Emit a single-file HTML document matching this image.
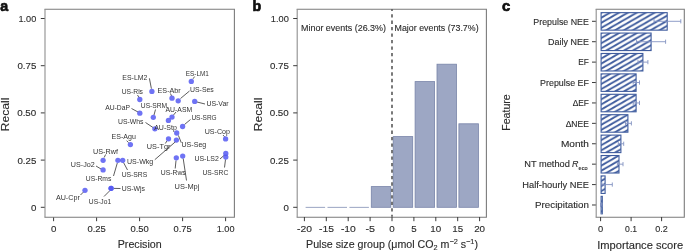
<!DOCTYPE html>
<html><head><meta charset="utf-8"><style>
html,body{margin:0;padding:0;background:#fff;}
svg{display:block;font-family:"Liberation Sans", sans-serif;will-change:transform;}
text{stroke:#2b2b2b;stroke-width:0.12px;}
text.s{stroke:none;}
</style></head><body>
<svg width="685" height="251" viewBox="0 0 685 251">
<rect width="685" height="251" fill="#fff"/>
<text x="0.3" y="11" font-size="15" text-anchor="start" fill="#111" font-weight="bold" textLength="7.9" lengthAdjust="spacingAndGlyphs" style="stroke:#111;stroke-width:0.7px">a</text>
<line x1="40.8" y1="207.3" x2="45" y2="207.3" stroke="#3a3a3a" stroke-width="1"/>
<text x="36.3" y="210.7" font-size="9.8" text-anchor="end" fill="#2b2b2b" font-weight="normal" textLength="5.4" lengthAdjust="spacingAndGlyphs">0</text>
<line x1="40.8" y1="160.10000000000002" x2="45" y2="160.10000000000002" stroke="#3a3a3a" stroke-width="1"/>
<text x="36.3" y="163.5" font-size="9.8" text-anchor="end" fill="#2b2b2b" font-weight="normal" textLength="18.9" lengthAdjust="spacingAndGlyphs">0.25</text>
<line x1="40.8" y1="112.9" x2="45" y2="112.9" stroke="#3a3a3a" stroke-width="1"/>
<text x="36.3" y="116.3" font-size="9.8" text-anchor="end" fill="#2b2b2b" font-weight="normal" textLength="19.1" lengthAdjust="spacingAndGlyphs">0.50</text>
<line x1="40.8" y1="65.69999999999999" x2="45" y2="65.69999999999999" stroke="#3a3a3a" stroke-width="1"/>
<text x="36.3" y="69.1" font-size="9.8" text-anchor="end" fill="#2b2b2b" font-weight="normal" textLength="18.9" lengthAdjust="spacingAndGlyphs">0.75</text>
<line x1="40.8" y1="18.5" x2="45" y2="18.5" stroke="#3a3a3a" stroke-width="1"/>
<text x="36.3" y="21.9" font-size="9.8" text-anchor="end" fill="#2b2b2b" font-weight="normal" textLength="17.8" lengthAdjust="spacingAndGlyphs">1.00</text>
<line x1="53.6" y1="217" x2="53.6" y2="221.2" stroke="#3a3a3a" stroke-width="1"/>
<text x="53.6" y="232.2" font-size="9.8" text-anchor="middle" fill="#2b2b2b" font-weight="normal" textLength="5.4" lengthAdjust="spacingAndGlyphs">0</text>
<line x1="96.6" y1="217" x2="96.6" y2="221.2" stroke="#3a3a3a" stroke-width="1"/>
<text x="96.6" y="232.2" font-size="9.8" text-anchor="middle" fill="#2b2b2b" font-weight="normal" textLength="18.4" lengthAdjust="spacingAndGlyphs">0.25</text>
<line x1="139.6" y1="217" x2="139.6" y2="221.2" stroke="#3a3a3a" stroke-width="1"/>
<text x="139.6" y="232.2" font-size="9.8" text-anchor="middle" fill="#2b2b2b" font-weight="normal" textLength="18.4" lengthAdjust="spacingAndGlyphs">0.50</text>
<line x1="182.6" y1="217" x2="182.6" y2="221.2" stroke="#3a3a3a" stroke-width="1"/>
<text x="182.6" y="232.2" font-size="9.8" text-anchor="middle" fill="#2b2b2b" font-weight="normal" textLength="18.2" lengthAdjust="spacingAndGlyphs">0.75</text>
<line x1="225.6" y1="217" x2="225.6" y2="221.2" stroke="#3a3a3a" stroke-width="1"/>
<text x="225.6" y="232.2" font-size="9.8" text-anchor="middle" fill="#2b2b2b" font-weight="normal" textLength="17.8" lengthAdjust="spacingAndGlyphs">1.00</text>
<text x="117.7" y="247.5" font-size="10.2" text-anchor="start" fill="#2b2b2b" font-weight="normal" textLength="44" lengthAdjust="spacingAndGlyphs">Precision</text>
<text transform="translate(8.7,114.5) rotate(-90)" font-size="10.2" text-anchor="middle" fill="#2b2b2b" textLength="33.8" lengthAdjust="spacingAndGlyphs">Recall</text>
<line x1="193" y1="78.8" x2="194.6" y2="76.6" stroke="#333" stroke-width="0.8"/>
<line x1="149.4" y1="78.3" x2="151.4" y2="88.7" stroke="#333" stroke-width="0.8"/>
<line x1="170.5" y1="93.5" x2="171.5" y2="96" stroke="#333" stroke-width="0.8"/>
<line x1="180.5" y1="98.5" x2="189.5" y2="91" stroke="#333" stroke-width="0.8"/>
<line x1="137.5" y1="95" x2="139" y2="97.5" stroke="#333" stroke-width="0.8"/>
<line x1="197" y1="102" x2="205" y2="104" stroke="#333" stroke-width="0.8"/>
<line x1="131.5" y1="108.5" x2="138" y2="112" stroke="#333" stroke-width="0.8"/>
<line x1="154" y1="115" x2="155.5" y2="109.5" stroke="#333" stroke-width="0.8"/>
<line x1="173.5" y1="115" x2="176" y2="112" stroke="#333" stroke-width="0.8"/>
<line x1="145.5" y1="122.5" x2="153" y2="127.5" stroke="#333" stroke-width="0.8"/>
<line x1="184.5" y1="124.5" x2="190.5" y2="119.5" stroke="#333" stroke-width="0.8"/>
<line x1="178.4" y1="135.4" x2="181.3" y2="142.8" stroke="#333" stroke-width="0.8"/>
<line x1="166.9" y1="141" x2="165.3" y2="143.5" stroke="#333" stroke-width="0.8"/>
<line x1="175.5" y1="141.7" x2="154.8" y2="159.7" stroke="#333" stroke-width="0.8"/>
<line x1="223" y1="135" x2="224.6" y2="136.8" stroke="#333" stroke-width="0.8"/>
<line x1="220" y1="159" x2="224.5" y2="155" stroke="#333" stroke-width="0.8"/>
<line x1="224.5" y1="167.5" x2="225.5" y2="159.5" stroke="#333" stroke-width="0.8"/>
<line x1="176" y1="160.5" x2="175.2" y2="168.5" stroke="#333" stroke-width="0.8"/>
<line x1="183.2" y1="158.5" x2="186.5" y2="180.5" stroke="#333" stroke-width="0.8"/>
<line x1="126.6" y1="140.7" x2="128.6" y2="142.6" stroke="#333" stroke-width="0.8"/>
<line x1="104.2" y1="157.5" x2="105.6" y2="154.5" stroke="#333" stroke-width="0.8"/>
<line x1="96" y1="166" x2="101" y2="169" stroke="#333" stroke-width="0.8"/>
<line x1="123.5" y1="162.5" x2="127.5" y2="170" stroke="#333" stroke-width="0.8"/>
<line x1="113.5" y1="176" x2="117.3" y2="163" stroke="#333" stroke-width="0.8"/>
<line x1="114" y1="188.4" x2="120.5" y2="188.5" stroke="#333" stroke-width="0.8"/>
<line x1="80.5" y1="195" x2="83.5" y2="192" stroke="#333" stroke-width="0.8"/>
<line x1="104" y1="196.5" x2="110" y2="190.5" stroke="#333" stroke-width="0.8"/>
<circle cx="191.3" cy="81.4" r="2.65" fill="#5257f2" fill-opacity="0.83"/>
<circle cx="151.9" cy="91.4" r="2.65" fill="#5257f2" fill-opacity="0.83"/>
<circle cx="172" cy="98.2" r="2.65" fill="#5257f2" fill-opacity="0.83"/>
<circle cx="178.2" cy="100.8" r="2.65" fill="#5257f2" fill-opacity="0.83"/>
<circle cx="139.8" cy="99.5" r="2.65" fill="#5257f2" fill-opacity="0.83"/>
<circle cx="194.7" cy="101.4" r="2.65" fill="#5257f2" fill-opacity="0.83"/>
<circle cx="139.8" cy="113.2" r="2.65" fill="#5257f2" fill-opacity="0.83"/>
<circle cx="153.3" cy="117.3" r="2.65" fill="#5257f2" fill-opacity="0.83"/>
<circle cx="172" cy="117.1" r="2.65" fill="#5257f2" fill-opacity="0.83"/>
<circle cx="168.4" cy="120.4" r="2.65" fill="#5257f2" fill-opacity="0.83"/>
<circle cx="154.9" cy="128.8" r="2.65" fill="#5257f2" fill-opacity="0.83"/>
<circle cx="182.6" cy="126.5" r="2.65" fill="#5257f2" fill-opacity="0.83"/>
<circle cx="176.7" cy="133" r="2.65" fill="#5257f2" fill-opacity="0.83"/>
<circle cx="168.5" cy="138.8" r="2.65" fill="#5257f2" fill-opacity="0.83"/>
<circle cx="176.4" cy="140.1" r="2.65" fill="#5257f2" fill-opacity="0.83"/>
<circle cx="225.6" cy="138.9" r="2.65" fill="#5257f2" fill-opacity="0.83"/>
<circle cx="225.8" cy="153.4" r="2.65" fill="#5257f2" fill-opacity="0.83"/>
<circle cx="225.8" cy="157.1" r="2.65" fill="#5257f2" fill-opacity="0.83"/>
<circle cx="176.3" cy="157.8" r="2.65" fill="#5257f2" fill-opacity="0.83"/>
<circle cx="182.7" cy="156.1" r="2.65" fill="#5257f2" fill-opacity="0.83"/>
<circle cx="130.4" cy="144.6" r="2.65" fill="#5257f2" fill-opacity="0.83"/>
<circle cx="103.1" cy="160.3" r="2.65" fill="#5257f2" fill-opacity="0.83"/>
<circle cx="103.1" cy="169.9" r="2.65" fill="#5257f2" fill-opacity="0.83"/>
<circle cx="117.9" cy="160.3" r="2.65" fill="#5257f2" fill-opacity="0.83"/>
<circle cx="122.7" cy="160.3" r="2.65" fill="#5257f2" fill-opacity="0.83"/>
<circle cx="85" cy="190.3" r="2.65" fill="#5257f2" fill-opacity="0.83"/>
<circle cx="111.1" cy="188.3" r="2.65" fill="#5257f2" fill-opacity="0.83"/>
<circle cx="111.1" cy="188.3" r="2.65" fill="#5257f2" fill-opacity="0.83"/>
<text x="185.8" y="76.2" font-size="7" text-anchor="start" fill="#333" font-weight="normal" textLength="23.1" lengthAdjust="spacingAndGlyphs" class="s">ES-LM1</text>
<text x="122.3" y="80.4" font-size="7" text-anchor="start" fill="#333" font-weight="normal" textLength="25.1" lengthAdjust="spacingAndGlyphs" class="s">ES-LM2</text>
<text x="157.6" y="92.6" font-size="7" text-anchor="start" fill="#333" font-weight="normal" textLength="23.1" lengthAdjust="spacingAndGlyphs" class="s">ES-Abr</text>
<text x="190" y="91.9" font-size="7" text-anchor="start" fill="#333" font-weight="normal" textLength="23.8" lengthAdjust="spacingAndGlyphs" class="s">US-Ses</text>
<text x="121.7" y="94.4" font-size="7" text-anchor="start" fill="#333" font-weight="normal" textLength="21.3" lengthAdjust="spacingAndGlyphs" class="s">US-Rls</text>
<text x="206.4" y="106.2" font-size="7" text-anchor="start" fill="#333" font-weight="normal" textLength="22.3" lengthAdjust="spacingAndGlyphs" class="s">US-Var</text>
<text x="105.2" y="110.4" font-size="7" text-anchor="start" fill="#333" font-weight="normal" textLength="24.8" lengthAdjust="spacingAndGlyphs" class="s">AU-DaP</text>
<text x="140.8" y="108.4" font-size="7" text-anchor="start" fill="#333" font-weight="normal" textLength="26.4" lengthAdjust="spacingAndGlyphs" class="s">US-SRM</text>
<text x="165.5" y="111.5" font-size="7" text-anchor="start" fill="#333" font-weight="normal" textLength="26.7" lengthAdjust="spacingAndGlyphs" class="s">AU-ASM</text>
<text x="118" y="123.7" font-size="7" text-anchor="start" fill="#333" font-weight="normal" textLength="25.5" lengthAdjust="spacingAndGlyphs" class="s">US-Whs</text>
<text x="154.2" y="130.2" font-size="7" text-anchor="start" fill="#333" font-weight="normal" textLength="22.6" lengthAdjust="spacingAndGlyphs" class="s">AU-Stp</text>
<text x="191.4" y="119.9" font-size="7" text-anchor="start" fill="#333" font-weight="normal" textLength="25.3" lengthAdjust="spacingAndGlyphs" class="s">US-SRG</text>
<text x="181.5" y="147.4" font-size="7" text-anchor="start" fill="#333" font-weight="normal" textLength="24.8" lengthAdjust="spacingAndGlyphs" class="s">US-Seg</text>
<text x="146.8" y="149.4" font-size="7" text-anchor="start" fill="#333" font-weight="normal" textLength="23.6" lengthAdjust="spacingAndGlyphs" class="s">US-Tgr</text>
<text x="204.7" y="133.7" font-size="7" text-anchor="start" fill="#333" font-weight="normal" textLength="25.3" lengthAdjust="spacingAndGlyphs" class="s">US-Cop</text>
<text x="194.4" y="161.4" font-size="7" text-anchor="start" fill="#333" font-weight="normal" textLength="24.4" lengthAdjust="spacingAndGlyphs" class="s">US-LS2</text>
<text x="202.5" y="175.4" font-size="7" text-anchor="start" fill="#333" font-weight="normal" textLength="25.8" lengthAdjust="spacingAndGlyphs" class="s">US-SRC</text>
<text x="160.7" y="175.1" font-size="7" text-anchor="start" fill="#333" font-weight="normal" textLength="25.1" lengthAdjust="spacingAndGlyphs" class="s">US-Rws</text>
<text x="174.6" y="188.5" font-size="7" text-anchor="start" fill="#333" font-weight="normal" textLength="24.8" lengthAdjust="spacingAndGlyphs" class="s">US-Mpj</text>
<text x="111.5" y="139.2" font-size="7" text-anchor="start" fill="#333" font-weight="normal" textLength="24.3" lengthAdjust="spacingAndGlyphs" class="s">ES-Agu</text>
<text x="93" y="153.6" font-size="7" text-anchor="start" fill="#333" font-weight="normal" textLength="24.9" lengthAdjust="spacingAndGlyphs" class="s">US-Rwf</text>
<text x="70.8" y="167.0" font-size="7" text-anchor="start" fill="#333" font-weight="normal" textLength="23.9" lengthAdjust="spacingAndGlyphs" class="s">US-Jo2</text>
<text x="127" y="163.9" font-size="7" text-anchor="start" fill="#333" font-weight="normal" textLength="26.3" lengthAdjust="spacingAndGlyphs" class="s">US-Wkg</text>
<text x="121.7" y="176.6" font-size="7" text-anchor="start" fill="#333" font-weight="normal" textLength="25.6" lengthAdjust="spacingAndGlyphs" class="s">US-SRS</text>
<text x="85.8" y="181.3" font-size="7" text-anchor="start" fill="#333" font-weight="normal" textLength="25.5" lengthAdjust="spacingAndGlyphs" class="s">US-Rms</text>
<text x="121.7" y="191.0" font-size="7" text-anchor="start" fill="#333" font-weight="normal" textLength="23.3" lengthAdjust="spacingAndGlyphs" class="s">US-Wjs</text>
<text x="55.9" y="199.7" font-size="7" text-anchor="start" fill="#333" font-weight="normal" textLength="23.9" lengthAdjust="spacingAndGlyphs" class="s">AU-Cpr</text>
<text x="88.8" y="204.3" font-size="7" text-anchor="start" fill="#333" font-weight="normal" textLength="22.3" lengthAdjust="spacingAndGlyphs" class="s">US-Jo1</text>
<path d="M45 9.3H234.4V217.3H45" fill="none" stroke="#7b7b7b" stroke-width="1.1" stroke-linecap="square"/>
<path d="M45 9.3V217.3" fill="none" stroke="#8f8f8f" stroke-width="1.1"/>
<text x="252.5" y="10.8" font-size="15" text-anchor="start" fill="#111" font-weight="bold" textLength="8.7" lengthAdjust="spacingAndGlyphs" style="stroke:#111;stroke-width:0.7px">b</text>
<line x1="305.59999999999997" y1="207.4" x2="325.1" y2="207.4" stroke="#a3acc8" stroke-width="1.1"/>
<line x1="327.5" y1="207.4" x2="347.0" y2="207.4" stroke="#a3acc8" stroke-width="1.1"/>
<line x1="349.4" y1="207.4" x2="368.90000000000003" y2="207.4" stroke="#a3acc8" stroke-width="1.1"/>
<rect x="371.30" y="186.6" width="19.50" height="20.7" fill="#9da7c4" stroke="#7884a9" stroke-width="0.8"/>
<rect x="393.20" y="136.6" width="19.50" height="70.7" fill="#9da7c4" stroke="#7884a9" stroke-width="0.8"/>
<rect x="415.10" y="81.60000000000001" width="19.50" height="125.7" fill="#9da7c4" stroke="#7884a9" stroke-width="0.8"/>
<rect x="437.00" y="64.2" width="19.50" height="143.1" fill="#9da7c4" stroke="#7884a9" stroke-width="0.8"/>
<rect x="458.90" y="123.80000000000001" width="19.50" height="83.5" fill="#9da7c4" stroke="#7884a9" stroke-width="0.8"/>
<path d="M297.2 9.3H486.4V217.3H297.2" fill="none" stroke="#7b7b7b" stroke-width="1.1" stroke-linecap="square"/>
<path d="M297.2 9.3V217.3" fill="none" stroke="#8f8f8f" stroke-width="1.1"/>
<line x1="392.0" y1="9.3" x2="392.0" y2="216.8" stroke="#3a3a3a" stroke-width="1.35" stroke-dasharray="3.3,3.17" stroke-dashoffset="1.64"/>
<line x1="293.2" y1="207.3" x2="297.2" y2="207.3" stroke="#3a3a3a" stroke-width="1"/>
<text x="288.8" y="210.7" font-size="9.8" text-anchor="end" fill="#2b2b2b" font-weight="normal" textLength="5.4" lengthAdjust="spacingAndGlyphs">0</text>
<line x1="293.2" y1="160.10000000000002" x2="297.2" y2="160.10000000000002" stroke="#3a3a3a" stroke-width="1"/>
<text x="288.8" y="163.5" font-size="9.8" text-anchor="end" fill="#2b2b2b" font-weight="normal" textLength="18.9" lengthAdjust="spacingAndGlyphs">0.25</text>
<line x1="293.2" y1="112.9" x2="297.2" y2="112.9" stroke="#3a3a3a" stroke-width="1"/>
<text x="288.8" y="116.3" font-size="9.8" text-anchor="end" fill="#2b2b2b" font-weight="normal" textLength="19.1" lengthAdjust="spacingAndGlyphs">0.50</text>
<line x1="293.2" y1="65.69999999999999" x2="297.2" y2="65.69999999999999" stroke="#3a3a3a" stroke-width="1"/>
<text x="288.8" y="69.1" font-size="9.8" text-anchor="end" fill="#2b2b2b" font-weight="normal" textLength="18.9" lengthAdjust="spacingAndGlyphs">0.75</text>
<line x1="293.2" y1="18.5" x2="297.2" y2="18.5" stroke="#3a3a3a" stroke-width="1"/>
<text x="288.8" y="21.9" font-size="9.8" text-anchor="end" fill="#2b2b2b" font-weight="normal" textLength="18" lengthAdjust="spacingAndGlyphs">1.00</text>
<line x1="304.4" y1="217" x2="304.4" y2="221.2" stroke="#3a3a3a" stroke-width="1"/>
<text x="304.59999999999997" y="232.4" font-size="9.8" text-anchor="middle" fill="#2b2b2b" font-weight="normal" textLength="15" lengthAdjust="spacingAndGlyphs">-20</text>
<line x1="326.3" y1="217" x2="326.3" y2="221.2" stroke="#3a3a3a" stroke-width="1"/>
<text x="326.5" y="232.4" font-size="9.8" text-anchor="middle" fill="#2b2b2b" font-weight="normal" textLength="15" lengthAdjust="spacingAndGlyphs">-15</text>
<line x1="348.2" y1="217" x2="348.2" y2="221.2" stroke="#3a3a3a" stroke-width="1"/>
<text x="348.4" y="232.4" font-size="9.8" text-anchor="middle" fill="#2b2b2b" font-weight="normal" textLength="15" lengthAdjust="spacingAndGlyphs">-10</text>
<line x1="370.1" y1="217" x2="370.1" y2="221.2" stroke="#3a3a3a" stroke-width="1"/>
<text x="370.3" y="232.4" font-size="9.8" text-anchor="middle" fill="#2b2b2b" font-weight="normal" textLength="9.6" lengthAdjust="spacingAndGlyphs">-5</text>
<line x1="392.0" y1="217" x2="392.0" y2="221.2" stroke="#3a3a3a" stroke-width="1"/>
<text x="392.0" y="232.4" font-size="9.8" text-anchor="middle" fill="#2b2b2b" font-weight="normal">0</text>
<line x1="413.9" y1="217" x2="413.9" y2="221.2" stroke="#3a3a3a" stroke-width="1"/>
<text x="413.9" y="232.4" font-size="9.8" text-anchor="middle" fill="#2b2b2b" font-weight="normal">5</text>
<line x1="435.8" y1="217" x2="435.8" y2="221.2" stroke="#3a3a3a" stroke-width="1"/>
<text x="435.8" y="232.4" font-size="9.8" text-anchor="middle" fill="#2b2b2b" font-weight="normal">10</text>
<line x1="457.7" y1="217" x2="457.7" y2="221.2" stroke="#3a3a3a" stroke-width="1"/>
<text x="457.7" y="232.4" font-size="9.8" text-anchor="middle" fill="#2b2b2b" font-weight="normal">15</text>
<line x1="479.6" y1="217" x2="479.6" y2="221.2" stroke="#3a3a3a" stroke-width="1"/>
<text x="479.6" y="232.4" font-size="9.8" text-anchor="middle" fill="#2b2b2b" font-weight="normal">20</text>
<text x="301" y="31.0" font-size="9" text-anchor="start" fill="#2b2b2b" font-weight="normal" textLength="85" lengthAdjust="spacingAndGlyphs">Minor events (26.3%)</text>
<text x="394.6" y="31.0" font-size="9" text-anchor="start" fill="#2b2b2b" font-weight="normal" textLength="84" lengthAdjust="spacingAndGlyphs">Major events (73.7%)</text>
<text transform="translate(262.2,114.5) rotate(-90)" font-size="10.2" text-anchor="middle" fill="#2b2b2b" textLength="33.8" lengthAdjust="spacingAndGlyphs">Recall</text>
<text x="306.1" y="247.5" font-size="10.2" fill="#2b2b2b" textLength="171.9" lengthAdjust="spacingAndGlyphs">Pulse size group (&#956;mol CO<tspan font-size="7" dy="2.5">2</tspan><tspan dy="-2.5"> m</tspan><tspan font-size="7" dy="-4">&#8722;2</tspan><tspan dy="4"> s</tspan><tspan font-size="7" dy="-4">&#8722;1</tspan><tspan dy="4">)</tspan></text>
<text x="502" y="10.8" font-size="15" text-anchor="start" fill="#111" font-weight="bold" textLength="8.2" lengthAdjust="spacingAndGlyphs" style="stroke:#111;stroke-width:0.7px">c</text>
<defs><pattern id="h" patternUnits="userSpaceOnUse" x="610" y="7.6" width="8.9" height="5.1"><rect width="8.9" height="5.1" fill="#fff"/><path d="M-8.9 5.1 L8.9 -5.1 M0 10.2 L17.8 0 M-8.9 10.2 L8.9 0 M0 5.1 L17.8 -5.1" stroke="#3f5c9e" stroke-width="1.85"/></pattern></defs>
<rect x="601.1" y="12.65" width="66.1" height="17.5" fill="url(#h)" stroke="#3f5c9e" stroke-width="1.1"/>
<line x1="654" y1="21.299999999999997" x2="680.8" y2="21.299999999999997" stroke="#8393c2" stroke-width="0.9"/>
<line x1="680.8" y1="19.199999999999996" x2="680.8" y2="23.4" stroke="#8393c2" stroke-width="0.9"/>
<line x1="654" y1="19.199999999999996" x2="654" y2="23.4" stroke="#8393c2" stroke-width="0.9"/>
<line x1="592" y1="21.299999999999997" x2="596.2" y2="21.299999999999997" stroke="#3a3a3a" stroke-width="1"/>
<text x="588.9" y="24.6" font-size="9" text-anchor="end" fill="#2b2b2b" font-weight="normal" textLength="55.6" lengthAdjust="spacingAndGlyphs">Prepulse NEE</text>
<rect x="601.1" y="33.06" width="50.0" height="17.5" fill="url(#h)" stroke="#3f5c9e" stroke-width="1.1"/>
<line x1="636.6" y1="41.709999999999994" x2="665.6" y2="41.709999999999994" stroke="#8393c2" stroke-width="0.9"/>
<line x1="665.6" y1="39.60999999999999" x2="665.6" y2="43.809999999999995" stroke="#8393c2" stroke-width="0.9"/>
<line x1="636.6" y1="39.60999999999999" x2="636.6" y2="43.809999999999995" stroke="#8393c2" stroke-width="0.9"/>
<line x1="592" y1="41.709999999999994" x2="596.2" y2="41.709999999999994" stroke="#3a3a3a" stroke-width="1"/>
<text x="588.9" y="45.01" font-size="9" text-anchor="end" fill="#2b2b2b" font-weight="normal" textLength="40.8" lengthAdjust="spacingAndGlyphs">Daily NEE</text>
<rect x="601.1" y="53.47" width="41.8" height="17.5" fill="url(#h)" stroke="#3f5c9e" stroke-width="1.1"/>
<line x1="638" y1="62.120000000000005" x2="647.9" y2="62.120000000000005" stroke="#8393c2" stroke-width="0.9"/>
<line x1="647.9" y1="60.02" x2="647.9" y2="64.22" stroke="#8393c2" stroke-width="0.9"/>
<line x1="638" y1="60.02" x2="638" y2="64.22" stroke="#8393c2" stroke-width="0.9"/>
<line x1="592" y1="62.120000000000005" x2="596.2" y2="62.120000000000005" stroke="#3a3a3a" stroke-width="1"/>
<text x="588.9" y="65.42" font-size="9" text-anchor="end" fill="#2b2b2b" font-weight="normal" textLength="10.6" lengthAdjust="spacingAndGlyphs">EF</text>
<rect x="601.1" y="73.88" width="35.0" height="17.5" fill="url(#h)" stroke="#3f5c9e" stroke-width="1.1"/>
<line x1="633.2" y1="82.53" x2="639.5" y2="82.53" stroke="#8393c2" stroke-width="0.9"/>
<line x1="639.5" y1="80.43" x2="639.5" y2="84.63" stroke="#8393c2" stroke-width="0.9"/>
<line x1="633.2" y1="80.43" x2="633.2" y2="84.63" stroke="#8393c2" stroke-width="0.9"/>
<line x1="592" y1="82.53" x2="596.2" y2="82.53" stroke="#3a3a3a" stroke-width="1"/>
<text x="588.9" y="85.83" font-size="9" text-anchor="end" fill="#2b2b2b" font-weight="normal" textLength="48.8" lengthAdjust="spacingAndGlyphs">Prepulse EF</text>
<rect x="601.1" y="94.29" width="35.0" height="17.5" fill="url(#h)" stroke="#3f5c9e" stroke-width="1.1"/>
<line x1="633.2" y1="102.94" x2="639.5" y2="102.94" stroke="#8393c2" stroke-width="0.9"/>
<line x1="639.5" y1="100.84" x2="639.5" y2="105.03999999999999" stroke="#8393c2" stroke-width="0.9"/>
<line x1="633.2" y1="100.84" x2="633.2" y2="105.03999999999999" stroke="#8393c2" stroke-width="0.9"/>
<line x1="592" y1="102.94" x2="596.2" y2="102.94" stroke="#3a3a3a" stroke-width="1"/>
<text x="588.9" y="106.24" font-size="9" text-anchor="end" fill="#2b2b2b" font-weight="normal" textLength="16.2" lengthAdjust="spacingAndGlyphs">&#916;EF</text>
<rect x="601.1" y="114.70" width="26.8" height="17.5" fill="url(#h)" stroke="#3f5c9e" stroke-width="1.1"/>
<line x1="625.5" y1="123.35" x2="631.4" y2="123.35" stroke="#8393c2" stroke-width="0.9"/>
<line x1="631.4" y1="121.25" x2="631.4" y2="125.44999999999999" stroke="#8393c2" stroke-width="0.9"/>
<line x1="625.5" y1="121.25" x2="625.5" y2="125.44999999999999" stroke="#8393c2" stroke-width="0.9"/>
<line x1="592" y1="123.35" x2="596.2" y2="123.35" stroke="#3a3a3a" stroke-width="1"/>
<text x="588.9" y="126.65" font-size="9" text-anchor="end" fill="#2b2b2b" font-weight="normal" textLength="23.2" lengthAdjust="spacingAndGlyphs">&#916;NEE</text>
<rect x="601.1" y="135.11" width="19.8" height="17.5" fill="url(#h)" stroke="#3f5c9e" stroke-width="1.1"/>
<line x1="618.3" y1="143.76" x2="623.7" y2="143.76" stroke="#8393c2" stroke-width="0.9"/>
<line x1="623.7" y1="141.66" x2="623.7" y2="145.85999999999999" stroke="#8393c2" stroke-width="0.9"/>
<line x1="618.3" y1="141.66" x2="618.3" y2="145.85999999999999" stroke="#8393c2" stroke-width="0.9"/>
<line x1="592" y1="143.76" x2="596.2" y2="143.76" stroke="#3a3a3a" stroke-width="1"/>
<text x="588.9" y="147.06" font-size="9" text-anchor="end" fill="#2b2b2b" font-weight="normal" textLength="28" lengthAdjust="spacingAndGlyphs">Month</text>
<rect x="601.1" y="155.52" width="17.9" height="17.5" fill="url(#h)" stroke="#3f5c9e" stroke-width="1.1"/>
<line x1="617.4" y1="164.17" x2="623" y2="164.17" stroke="#8393c2" stroke-width="0.9"/>
<line x1="623" y1="162.07" x2="623" y2="166.26999999999998" stroke="#8393c2" stroke-width="0.9"/>
<line x1="617.4" y1="162.07" x2="617.4" y2="166.26999999999998" stroke="#8393c2" stroke-width="0.9"/>
<line x1="592" y1="164.17" x2="596.2" y2="164.17" stroke="#3a3a3a" stroke-width="1"/>
<text x="524.3" y="167.47" font-size="9" text-anchor="start" fill="#2b2b2b" font-weight="normal" textLength="45.5" lengthAdjust="spacingAndGlyphs">NT method</text>
<text x="572.1" y="167.47" font-size="9" text-anchor="start" fill="#2b2b2b" font-weight="normal" textLength="6.4" lengthAdjust="spacingAndGlyphs" font-style="italic">R</text>
<text x="578.6" y="169.77" font-size="6" text-anchor="start" fill="#2b2b2b" font-weight="normal" textLength="9" lengthAdjust="spacingAndGlyphs">eco</text>
<rect x="601.1" y="175.93" width="4.0" height="17.5" fill="url(#h)" stroke="#3f5c9e" stroke-width="1.1"/>
<line x1="602" y1="184.57999999999998" x2="612.3" y2="184.57999999999998" stroke="#8393c2" stroke-width="0.9"/>
<line x1="612.3" y1="182.48" x2="612.3" y2="186.67999999999998" stroke="#8393c2" stroke-width="0.9"/>
<line x1="602" y1="182.48" x2="602" y2="186.67999999999998" stroke="#8393c2" stroke-width="0.9"/>
<line x1="592" y1="184.57999999999998" x2="596.2" y2="184.57999999999998" stroke="#3a3a3a" stroke-width="1"/>
<text x="588.9" y="187.88" font-size="9" text-anchor="end" fill="#2b2b2b" font-weight="normal" textLength="66.6" lengthAdjust="spacingAndGlyphs">Half-hourly NEE</text>
<rect x="601.1" y="196.34" width="1.2" height="17.5" fill="url(#h)" stroke="#3f5c9e" stroke-width="1.1"/>
<line x1="600.5" y1="204.98999999999998" x2="602" y2="204.98999999999998" stroke="#8393c2" stroke-width="0.9"/>
<line x1="602" y1="202.89" x2="602" y2="207.08999999999997" stroke="#8393c2" stroke-width="0.9"/>
<line x1="600.5" y1="202.89" x2="600.5" y2="207.08999999999997" stroke="#8393c2" stroke-width="0.9"/>
<line x1="592" y1="204.98999999999998" x2="596.2" y2="204.98999999999998" stroke="#3a3a3a" stroke-width="1"/>
<text x="588.9" y="208.29" font-size="9" text-anchor="end" fill="#2b2b2b" font-weight="normal" textLength="53.8" lengthAdjust="spacingAndGlyphs">Precipitation</text>
<path d="M596.2 9.3H684.3V217.3H596.2" fill="none" stroke="#7b7b7b" stroke-width="1.1" stroke-linecap="square"/>
<path d="M596.2 9.3V217.3" fill="none" stroke="#8f8f8f" stroke-width="1.1"/>
<line x1="600.6" y1="217" x2="600.6" y2="221.2" stroke="#3a3a3a" stroke-width="1"/>
<text x="600.6" y="232.2" font-size="9.8" text-anchor="middle" fill="#2b2b2b" font-weight="normal" textLength="5.2" lengthAdjust="spacingAndGlyphs">0</text>
<line x1="631.1" y1="217" x2="631.1" y2="221.2" stroke="#3a3a3a" stroke-width="1"/>
<text x="631.1" y="232.2" font-size="9.8" text-anchor="middle" fill="#2b2b2b" font-weight="normal" textLength="12" lengthAdjust="spacingAndGlyphs">0.1</text>
<line x1="661.6" y1="217" x2="661.6" y2="221.2" stroke="#3a3a3a" stroke-width="1"/>
<text x="661.6" y="232.2" font-size="9.8" text-anchor="middle" fill="#2b2b2b" font-weight="normal" textLength="12.6" lengthAdjust="spacingAndGlyphs">0.2</text>
<text x="597.2" y="248.9" font-size="10.2" text-anchor="start" fill="#2b2b2b" font-weight="normal" textLength="86" lengthAdjust="spacingAndGlyphs">Importance score</text>
<text transform="translate(510.2,112.5) rotate(-90)" font-size="10.2" text-anchor="middle" fill="#2b2b2b" textLength="36.5" lengthAdjust="spacingAndGlyphs">Feature</text>
</svg>
</body></html>
